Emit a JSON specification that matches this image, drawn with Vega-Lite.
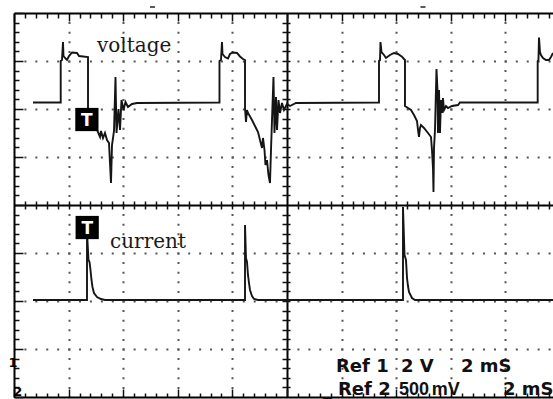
{
  "$schema": "https://vega.github.io/schema/vega-lite/v6.json",
  "width": 539,
  "height": 384,
  "autosize": {"type": "none"},
  "padding": {"left": 14, "top": 13, "right": 0, "bottom": 2},
  "background": "white",
  "config": {"view": {"stroke": null}},
  "datasets": {
    "voltage": [
      {"t": 0.696, "d": 2.135}, {"t": 1.711, "d": 2.135}, {"t": 1.711, "d": 3.0}, {"t": 1.758, "d": 3.021},
      {"t": 1.795, "d": 3.396}, {"t": 1.813, "d": 3.104}, {"t": 1.868, "d": 3.063}, {"t": 1.941, "d": 3.021},
      {"t": 2.015, "d": 3.104}, {"t": 2.125, "d": 3.177}, {"t": 2.308, "d": 3.167}, {"t": 2.381, "d": 3.104},
      {"t": 2.711, "d": 3.083}, {"t": 2.711, "d": 2.021}, {"t": 2.857, "d": 1.813}, {"t": 3.04, "d": 1.563},
      {"t": 3.15, "d": 1.417}, {"t": 3.187, "d": 1.542}, {"t": 3.26, "d": 1.396}, {"t": 3.333, "d": 1.5},
      {"t": 3.407, "d": 1.354}, {"t": 3.48, "d": 1.292}, {"t": 3.553, "d": 0.458}, {"t": 3.59, "d": 1.25},
      {"t": 3.663, "d": 1.542}, {"t": 3.718, "d": 2.667}, {"t": 3.755, "d": 1.5}, {"t": 3.828, "d": 2.0},
      {"t": 3.883, "d": 1.563}, {"t": 3.938, "d": 2.188}, {"t": 4.011, "d": 1.979}, {"t": 4.084, "d": 2.146},
      {"t": 4.176, "d": 2.042}, {"t": 4.322, "d": 2.104}, {"t": 4.505, "d": 2.125},
      {"t": 7.527, "d": 2.135}, {"t": 7.527, "d": 3.0}, {"t": 7.582, "d": 3.021}, {"t": 7.619, "d": 3.396},
      {"t": 7.637, "d": 3.146}, {"t": 7.729, "d": 3.083}, {"t": 7.839, "d": 3.052}, {"t": 7.912, "d": 3.146},
      {"t": 8.022, "d": 3.177}, {"t": 8.168, "d": 3.167}, {"t": 8.278, "d": 3.094}, {"t": 8.388, "d": 3.042},
      {"t": 8.462, "d": 3.021}, {"t": 8.462, "d": 2.021}, {"t": 8.498, "d": 1.729}, {"t": 8.535, "d": 1.979},
      {"t": 8.571, "d": 1.917}, {"t": 8.718, "d": 1.771}, {"t": 8.864, "d": 1.604}, {"t": 8.938, "d": 1.521},
      {"t": 9.011, "d": 1.354}, {"t": 9.084, "d": 1.1875}, {"t": 9.121, "d": 1.396}, {"t": 9.176, "d": 1.146},
      {"t": 9.212, "d": 0.833}, {"t": 9.267, "d": 0.9375}, {"t": 9.322, "d": 0.625}, {"t": 9.377, "d": 0.458},
      {"t": 9.414, "d": 1.146}, {"t": 9.451, "d": 1.771}, {"t": 9.505, "d": 2.667}, {"t": 9.542, "d": 1.5},
      {"t": 9.597, "d": 2.25}, {"t": 9.634, "d": 1.5625}, {"t": 9.689, "d": 2.1875}, {"t": 9.744, "d": 1.917},
      {"t": 9.817, "d": 2.125}, {"t": 9.89, "d": 1.979}, {"t": 10.0, "d": 2.104}, {"t": 10.11, "d": 2.0625},
      {"t": 10.33, "d": 2.125},
      {"t": 13.37, "d": 2.135}, {"t": 13.37, "d": 3.0}, {"t": 13.407, "d": 3.021}, {"t": 13.425, "d": 3.396},
      {"t": 13.462, "d": 3.1875}, {"t": 13.553, "d": 3.125}, {"t": 13.626, "d": 3.063}, {"t": 13.773, "d": 3.125},
      {"t": 13.919, "d": 3.167}, {"t": 14.066, "d": 3.146}, {"t": 14.212, "d": 3.09}, {"t": 14.286, "d": 3.042},
      {"t": 14.322, "d": 3.021}, {"t": 14.322, "d": 2.0625}, {"t": 14.432, "d": 2.021}, {"t": 14.542, "d": 1.979},
      {"t": 14.652, "d": 1.875}, {"t": 14.762, "d": 1.75}, {"t": 14.799, "d": 1.563}, {"t": 14.835, "d": 1.417},
      {"t": 14.872, "d": 1.604}, {"t": 14.908, "d": 1.667}, {"t": 15.018, "d": 1.604}, {"t": 15.165, "d": 1.5},
      {"t": 15.275, "d": 1.417}, {"t": 15.311, "d": 1.146}, {"t": 15.348, "d": 0.771}, {"t": 15.366, "d": 0.271},
      {"t": 15.385, "d": 1.1875}, {"t": 15.421, "d": 1.563}, {"t": 15.476, "d": 2.833}, {"t": 15.513, "d": 2.396},
      {"t": 15.531, "d": 1.5}, {"t": 15.568, "d": 2.396}, {"t": 15.604, "d": 1.5}, {"t": 15.641, "d": 2.188},
      {"t": 15.678, "d": 1.917}, {"t": 15.714, "d": 2.229}, {"t": 15.751, "d": 1.979}, {"t": 15.824, "d": 2.0625},
      {"t": 15.897, "d": 2.021}, {"t": 16.044, "d": 2.0625}, {"t": 16.264, "d": 2.083}, {"t": 16.337, "d": 2.135},
      {"t": 19.183, "d": 2.135}, {"t": 19.183, "d": 3.0}, {"t": 19.212, "d": 3.021}, {"t": 19.231, "d": 3.49},
      {"t": 19.267, "d": 3.1875}, {"t": 19.304, "d": 3.125}, {"t": 19.377, "d": 3.063}, {"t": 19.487, "d": 3.021},
      {"t": 19.597, "d": 3.021}, {"t": 19.67, "d": 3.083}, {"t": 19.744, "d": 3.167}
    ],
    "current": [
      {"t": 0.696, "d": -1.979}, {"t": 2.674, "d": -1.979}, {"t": 2.674, "d": -0.5625}, {"t": 2.729, "d": -1.146},
      {"t": 2.766, "d": -1.1875}, {"t": 2.802, "d": -1.354}, {"t": 2.839, "d": -1.5625}, {"t": 2.875, "d": -1.708},
      {"t": 2.93, "d": -1.833}, {"t": 3.04, "d": -1.917}, {"t": 3.187, "d": -1.958}, {"t": 3.333, "d": -1.979},
      {"t": 8.462, "d": -1.979}, {"t": 8.462, "d": -0.417}, {"t": 8.498, "d": -1.104}, {"t": 8.535, "d": -1.1875},
      {"t": 8.571, "d": -1.458}, {"t": 8.608, "d": -1.625}, {"t": 8.645, "d": -1.771}, {"t": 8.718, "d": -1.896},
      {"t": 8.791, "d": -1.958}, {"t": 8.938, "d": -1.979},
      {"t": 14.249, "d": -1.979}, {"t": 14.249, "d": -0.042}, {"t": 14.304, "d": -1.042}, {"t": 14.359, "d": -1.146},
      {"t": 14.396, "d": -1.521}, {"t": 14.432, "d": -1.6875}, {"t": 14.469, "d": -1.8125}, {"t": 14.579, "d": -1.9375},
      {"t": 14.689, "d": -1.979}, {"t": 19.744, "d": -1.979}
    ],
    "labels": [
      {"t": 3.04, "d": 3.1875, "text": "voltage"},
      {"t": 3.516, "d": -0.896, "text": "current"}
    ],
    "triggers": [
      {"t": 2.67, "d": 1.781, "text": "T"},
      {"t": 2.681, "d": -0.469, "text": "T"}
    ],
    "refs": [
      {"t": 11.795, "d": -3.479, "text": "Ref 1"},
      {"t": 14.176, "d": -3.479, "text": "2 V"},
      {"t": 16.374, "d": -3.479, "text": "2 mS"},
      {"t": 11.319, "d": -3.95, "text": "_"},
      {"t": 11.868, "d": -3.95, "text": "Ref 2"},
      {"t": 17.912, "d": -3.95, "text": "2 mS"}
    ],
    "refs2": [
      {"t": 14.103, "d": -3.95, "text": "500"},
      {"t": 15.3, "d": -3.95, "text": "mV"}
    ],
    "markers": [
      {"t": 5.073, "d": 4.125},
      {"t": 14.982, "d": 4.125}
    ],
    "channels": [
      {"t": -0.2, "d": -3.38, "text": "1"},
      {"t": -0.03, "d": -3.97, "text": "2"}
    ]
  },
  "resolve": {"axis": {"x": "independent", "y": "independent"}},
  "layer": [
    {
      "data": {"name": "voltage"},
      "mark": {"type": "line", "color": "#151515", "strokeWidth": 1.9},
      "encoding": {
        "x": {
          "field": "t", "type": "quantitative",
          "scale": {"domain": [0, 19.744], "nice": false, "zero": false},
          "axis": {
            "orient": "bottom", "title": null, "labels": false,
            "values": [0,0.4,0.8,1.2,1.6,2,2.4,2.8,3.2,3.6,4,4.4,4.8,5.2,5.6,6,6.4,6.8,7.2,7.6,8,8.4,8.8,9.2,9.6,10,10.4,10.8,11.2,11.6,12,12.4,12.8,13.2,13.6,14,14.4,14.8,15.2,15.6,16,16.4,16.8,17.2,17.6,18,18.4,18.8,19.2,19.6],
            "domain": true, "domainColor": "#000", "domainWidth": 2,
            "ticks": true, "tickColor": "#111", "tickWidth": 1.5,
            "tickSize": {"condition": {"test": "abs(datum.value/2 - round(datum.value/2)) < 0.01", "value": -8}, "value": -4},
            "grid": true, "gridWidth": 2, "gridDashOffset": 1,
            "gridOpacity": {"condition": {"test": "abs(datum.value/2 - round(datum.value/2)) < 0.01 && datum.value > 0.5", "value": 1}, "value": 0},
            "gridColor": {"condition": {"test": "abs(datum.value - 10) < 0.01", "value": "#000"}, "value": "#555"},
            "gridDash": {"condition": {"test": "abs(datum.value - 10) < 0.01", "value": [1, 0]}, "value": [2, 7.6]}
          }
        },
        "y": {
          "field": "d", "type": "quantitative",
          "scale": {"domain": [-4, 4], "nice": false, "zero": false},
          "axis": {
            "orient": "left", "title": null, "labels": false,
            "values": [-4,-3.8,-3.6,-3.4,-3.2,-3,-2.8,-2.6,-2.4,-2.2,-2,-1.8,-1.6,-1.4,-1.2,-1,-0.8,-0.6,-0.4,-0.2,0,0.2,0.4,0.6,0.8,1,1.2,1.4,1.6,1.8,2,2.2,2.4,2.6,2.8,3,3.2,3.4,3.6,3.8,4],
            "domain": true, "domainColor": "#000", "domainWidth": 2,
            "ticks": true, "tickColor": "#111", "tickWidth": 1.5,
            "tickSize": {"condition": {"test": "abs(datum.value - round(datum.value)) < 0.01", "value": -9}, "value": -5},
            "grid": true, "gridWidth": 2, "gridDashOffset": 1,
            "gridOpacity": {"condition": {"test": "abs(datum.value - round(datum.value)) < 0.01 && abs(datum.value) < 3.5", "value": 1}, "value": 0},
            "gridColor": {"condition": {"test": "abs(datum.value) < 0.01", "value": "#000"}, "value": "#555"},
            "gridDash": {"condition": {"test": "abs(datum.value) < 0.01", "value": [1, 0]}, "value": [2, 8.92]}
          }
        },
        "order": {"value": null}
      }
    },
    {
      "data": {"name": "current"},
      "mark": {"type": "line", "color": "#151515", "strokeWidth": 1.9},
      "encoding": {
        "x": {
          "field": "t", "type": "quantitative",
          "scale": {"domain": [0, 19.744], "nice": false, "zero": false},
          "axis": {
            "orient": "top", "title": null, "labels": false, "grid": false,
            "values": [0,0.4,0.8,1.2,1.6,2,2.4,2.8,3.2,3.6,4,4.4,4.8,5.2,5.6,6,6.4,6.8,7.2,7.6,8,8.4,8.8,9.2,9.6,10,10.4,10.8,11.2,11.6,12,12.4,12.8,13.2,13.6,14,14.4,14.8,15.2,15.6,16,16.4,16.8,17.2,17.6,18,18.4,18.8,19.2,19.6],
            "domain": true, "domainColor": "#000", "domainWidth": 2,
            "ticks": true, "tickColor": "#111", "tickWidth": 1.5,
            "tickSize": {"condition": {"test": "abs(datum.value/2 - round(datum.value/2)) < 0.01", "value": -8}, "value": -5}
          }
        },
        "y": {
          "field": "d", "type": "quantitative",
          "scale": {"domain": [-4, 4], "nice": false, "zero": false},
          "axis": {
            "orient": "left", "offset": -276, "title": null, "labels": false, "grid": false, "domain": false,
            "values": [-3.8,-3.6,-3.4,-3.2,-3,-2.8,-2.6,-2.4,-2.2,-2,-1.8,-1.6,-1.4,-1.2,-1,-0.8,-0.6,-0.4,-0.2,0.2,0.4,0.6,0.8,1,1.2,1.4,1.6,1.8,2,2.2,2.4,2.6,2.8,3,3.2,3.4,3.6,3.8],
            "ticks": true, "tickColor": "#111", "tickWidth": 1.5, "tickSize": 8
          }
        },
        "order": {"value": null}
      }
    },
    {
      "data": {"name": "labels"},
      "mark": {"type": "text", "font": "DejaVu Serif", "fontSize": 20, "color": "#1a1a1a", "align": "left", "baseline": "alphabetic"},
      "encoding": {
        "x": {
          "field": "t", "type": "quantitative",
          "scale": {"domain": [0, 19.744], "nice": false, "zero": false},
          "axis": {
            "orient": "bottom", "offset": -196, "title": null, "labels": false, "grid": false, "domain": false,
            "values": [0.4,0.8,1.2,1.6,2,2.4,2.8,3.2,3.6,4,4.4,4.8,5.2,5.6,6,6.4,6.8,7.2,7.6,8,8.4,8.8,9.2,9.6,10.4,10.8,11.2,11.6,12,12.4,12.8,13.2,13.6,14,14.4,14.8,15.2,15.6,16,16.4,16.8,17.2,17.6,18,18.4,18.8,19.2,19.6],
            "ticks": true, "tickColor": "#111", "tickWidth": 1.5, "tickSize": 8
          }
        },
        "y": {"field": "d", "type": "quantitative", "scale": {"domain": [-4, 4], "nice": false, "zero": false}, "axis": null},
        "text": {"field": "text"}
      }
    },
    {
      "data": {"name": "triggers"},
      "mark": {"type": "point", "shape": "square", "filled": true, "color": "#000", "size": 540, "opacity": 1},
      "encoding": {
        "x": {"field": "t", "type": "quantitative", "scale": {"domain": [0, 19.744], "nice": false, "zero": false}, "axis": null},
        "y": {"field": "d", "type": "quantitative", "scale": {"domain": [-4, 4], "nice": false, "zero": false}, "axis": null}
      }
    },
    {
      "data": {"name": "triggers"},
      "mark": {"type": "text", "font": "DejaVu Sans", "fontWeight": "bold", "fontSize": 17, "color": "#fff", "align": "center", "baseline": "middle", "dy": 1},
      "encoding": {
        "x": {"field": "t", "type": "quantitative", "scale": {"domain": [0, 19.744], "nice": false, "zero": false}, "axis": null},
        "y": {"field": "d", "type": "quantitative", "scale": {"domain": [-4, 4], "nice": false, "zero": false}, "axis": null},
        "text": {"field": "text"}
      }
    },
    {
      "data": {"name": "refs"},
      "mark": {"type": "text", "font": "DejaVu Sans", "fontWeight": "bold", "fontSize": 18, "color": "#111", "align": "left", "baseline": "alphabetic"},
      "encoding": {
        "x": {"field": "t", "type": "quantitative", "scale": {"domain": [0, 19.744], "nice": false, "zero": false}, "axis": null},
        "y": {"field": "d", "type": "quantitative", "scale": {"domain": [-4, 4], "nice": false, "zero": false}, "axis": null},
        "text": {"field": "text"}
      }
    },
    {
      "data": {"name": "refs2"},
      "mark": {"type": "text", "font": "Liberation Sans", "fontWeight": "bold", "fontSize": 18, "color": "#111", "align": "left", "baseline": "alphabetic"},
      "encoding": {
        "x": {"field": "t", "type": "quantitative", "scale": {"domain": [0, 19.744], "nice": false, "zero": false}, "axis": null},
        "y": {"field": "d", "type": "quantitative", "scale": {"domain": [-4, 4], "nice": false, "zero": false}, "axis": null},
        "text": {"field": "text"}
      }
    },
    {
      "data": {"name": "markers"},
      "mark": {"type": "tick", "orient": "horizontal", "size": 5, "thickness": 1.5, "color": "#222", "opacity": 1},
      "encoding": {
        "x": {"field": "t", "type": "quantitative", "scale": {"domain": [0, 19.744], "nice": false, "zero": false}, "axis": null},
        "y": {"field": "d", "type": "quantitative", "scale": {"domain": [-4, 4], "nice": false, "zero": false}, "axis": null}
      }
    },
    {
      "data": {"name": "channels"},
      "mark": {"type": "text", "font": "DejaVu Sans", "fontWeight": "bold", "fontSize": 13, "color": "#000", "align": "left", "baseline": "alphabetic"},
      "encoding": {
        "x": {"field": "t", "type": "quantitative", "scale": {"domain": [0, 19.744], "nice": false, "zero": false}, "axis": null},
        "y": {"field": "d", "type": "quantitative", "scale": {"domain": [-4, 4], "nice": false, "zero": false}, "axis": null},
        "text": {"field": "text"}
      }
    }
  ]
}
